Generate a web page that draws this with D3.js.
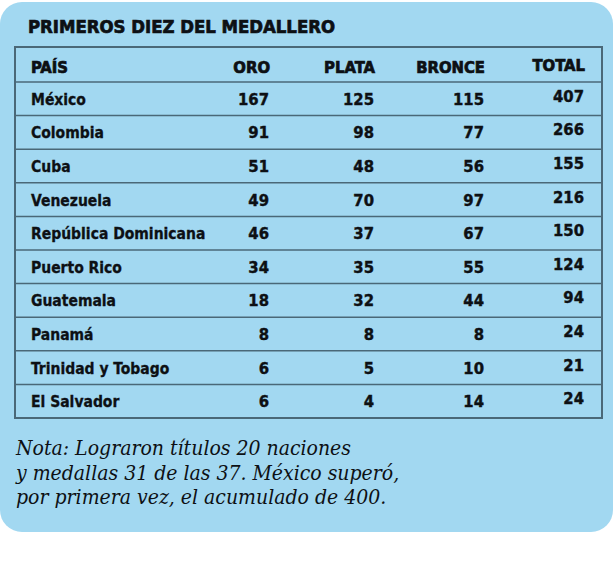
<!DOCTYPE html>
<html>
<head>
<meta charset="utf-8">
<script src="https://cdn.jsdelivr.net/npm/d3@7"></script>
<style>
  body { margin: 0; background: #fff; }
  svg { display: block; }
</style>
</head>
<body>
<div id="chart"></div>
<script>
// Table data
var paises = ["México", "Colombia", "Cuba", "Venezuela", "República Dominicana",
    "Puerto Rico", "Guatemala", "Panamá", "Trinidad y Tobago", "El Salvador"];
var oro = [167, 91, 51, 49, 46, 34, 18, 8, 6, 6];
var plata = [125, 98, 48, 70, 37, 35, 32, 8, 5, 4];
var bronce = [115, 77, 56, 97, 67, 55, 44, 8, 10, 14];
var total = [407, 266, 155, 216, 150, 124, 94, 24, 21, 24];
var columnas = ["ORO", "PLATA", "BRONCE", "TOTAL"];
var titulo = "PRIMEROS DIEZ DEL MEDALLERO";
var nota = ["Nota: Lograron títulos 20 naciones",
    "y medallas 31 de las 37. México superó,",
    "por primera vez, el acumulado de 400."];

var w = 614, h = 570;
var sans = "'DejaVu Sans Condensed', 'DejaVu Sans', sans-serif";
var ink = "#0d1014";
var line = "#4a6878";

var svg = d3.select("#chart").append("svg")
    .attr("width", w)
    .attr("height", h);

// light blue panel
svg.append("rect")
    .attr("x", 0).attr("y", 2)
    .attr("width", 613).attr("height", 530)
    .attr("rx", 22)
    .attr("fill", "#a2d8f1");

// title
svg.append("text")
    .attr("x", 28).attr("y", 33)
    .attr("font-family", sans)
    .attr("font-weight", "bold")
    .attr("font-size", 18.5)
    .attr("textLength", 307)
    .attr("lengthAdjust", "spacingAndGlyphs")
    .attr("fill", ink)
    .attr("stroke", ink).attr("stroke-width", 0.7)
    .text(titulo);

var tLeft = 15, tRight = 602, tTop = 47, headH = 35, tBottom = 418;

// rows scale
var y = d3.scaleBand()
    .domain(d3.range(paises.length))
    .range([tTop + headH, tBottom]);

// right edge of each number column
var x = d3.scaleOrdinal()
    .domain(columnas)
    .range([269, 374, 484, 584]);

var valores = [oro, plata, bronce, total];

// header
svg.append("text")
    .attr("x", 31).attr("y", 73)
    .attr("font-family", sans).attr("font-weight", "bold").attr("font-size", 16.5)
    .attr("fill", ink)
    .attr("stroke", ink).attr("stroke-width", 0.7)
    .text("PAÍS");

svg.selectAll("text.head")
    .data(columnas)
    .enter()
    .append("text")
    .attr("class", "head")
    .attr("x", function(d) { return x(d) + 1; })
    .attr("y", function(d) { return d === "TOTAL" ? 71 : 73; })
    .attr("text-anchor", "end")
    .attr("font-family", sans).attr("font-weight", "bold").attr("font-size", 16.5)
    .attr("fill", ink)
    .attr("stroke", ink).attr("stroke-width", 0.7)
    .text(function(d) { return d; });

// row separators
svg.selectAll("line.sep")
    .data(d3.range(paises.length))
    .enter()
    .append("line")
    .attr("class", "sep")
    .attr("x1", tLeft).attr("x2", tRight)
    .attr("y1", function(d) { return y(d); })
    .attr("y2", function(d) { return y(d); })
    .attr("stroke", line)
    .attr("stroke-width", 1.5);

// country names
svg.selectAll("text.pais")
    .data(paises)
    .enter()
    .append("text")
    .attr("class", "pais")
    .attr("x", 31)
    .attr("y", function(d, i) { return y(i) + y.bandwidth() / 2 + 6; })
    .attr("font-family", sans).attr("font-weight", "bold").attr("font-size", 15.5)
    .attr("fill", ink)
    .attr("stroke", ink).attr("stroke-width", 0.3)
    .text(function(d) { return d; });

// numbers
columnas.forEach(function(c, j) {
    svg.selectAll("text.num" + j)
        .data(valores[j])
        .enter()
        .append("text")
        .attr("class", "num" + j)
        .attr("x", x(c))
        .attr("y", function(d, i) {
            return y(i) + y.bandwidth() / 2 + (c === "TOTAL" ? 3 : 6);
        })
        .attr("text-anchor", "end")
        .attr("font-family", sans).attr("font-weight", "bold").attr("font-size", 16.5)
        .attr("fill", ink)
        .attr("stroke", ink).attr("stroke-width", 0.4)
        .text(function(d) { return d; });
});

// table outline
svg.append("rect")
    .attr("x", tLeft).attr("y", tTop)
    .attr("width", tRight - tLeft).attr("height", tBottom - tTop)
    .attr("fill", "none")
    .attr("stroke", line)
    .attr("stroke-width", 2);

// note
svg.selectAll("text.nota")
    .data(nota)
    .enter()
    .append("text")
    .attr("class", "nota")
    .attr("x", 16)
    .attr("y", function(d, i) { return 455 + i * 24.5; })
    .attr("font-family", "'DejaVu Serif Condensed', 'DejaVu Serif', serif")
    .attr("font-style", "italic")
    .attr("font-size", 21)
    .attr("fill", ink)
    .text(function(d) { return d; });
</script>
</body>
</html>
